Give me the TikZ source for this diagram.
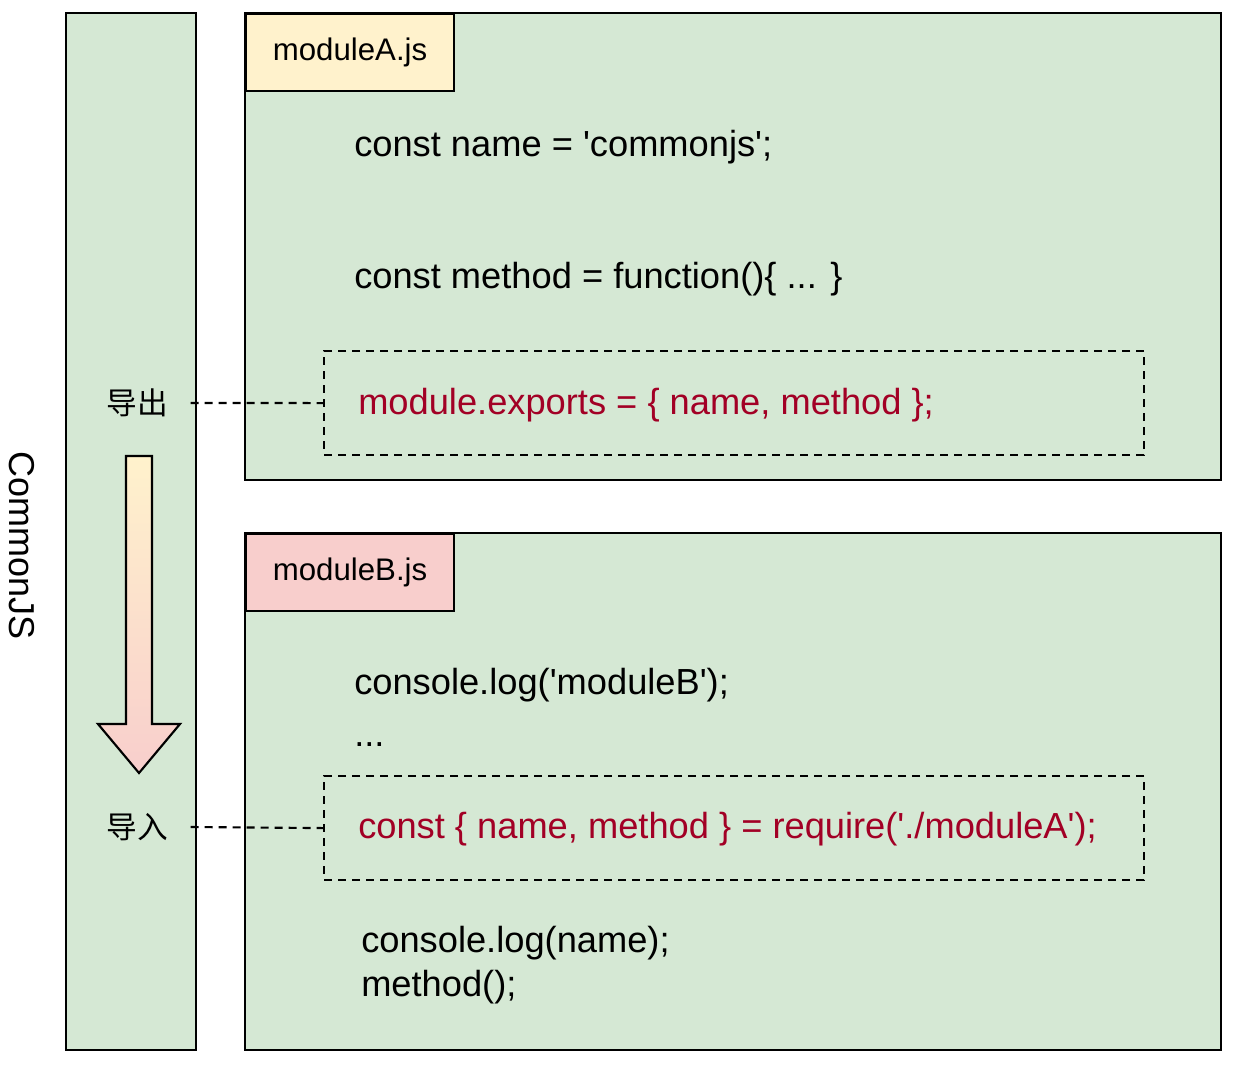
\documentclass[tikz,border=0pt]{standalone}
\usepackage{fontspec}
\setmainfont{Liberation Sans}[Ligatures=TeXOff]
\newfontfamily\cjk{Noto Sans CJK SC}

\definecolor{panelgreen}{HTML}{D5E8D4}
\definecolor{tabyellow}{HTML}{FFF2CC}
\definecolor{tabred}{HTML}{F8CECC}
\definecolor{codered}{HTML}{A20025}

\tikzset{
  panel/.style={draw, line width=1.6pt, fill=panelgreen},
  tabbox/.style={draw, line width=1.6pt, anchor=north west, minimum width=156pt,
    minimum height=57.75pt, inner sep=0pt, font=\fontsize{23.4}{27}\selectfont},
  codeline/.style={anchor=west, inner sep=0pt, text height=0.72em, text depth=0.2em,
    yshift=-6pt, font=\fontsize{27.2}{32}\selectfont},
  framebox/.style={draw, line width=1.6pt, dash pattern=on 6pt off 4.5pt,
    anchor=north west, minimum width=615pt, minimum height=78pt, inner sep=0pt},
  linkline/.style={line width=1.6pt, dash pattern=on 6pt off 4.5pt},
  steplabel/.style={inner sep=0pt, font=\cjk\fontsize{23}{26}\selectfont}
}

\begin{document}
\begin{tikzpicture}[x=0.75pt, y=-0.75pt]
    \useasboundingbox (0,0) rectangle (1234,1064);

    % Left column and side title
    \draw[panel] (66,13) rectangle (196,1050);
    \node[rotate=-90, inner sep=0pt, font=\fontsize{27}{32}\selectfont] (title) at (22,546) {CommonJS};

    % Module panels
    \draw[panel] (245,13) rectangle (1221,480);
    \draw[panel] (245,533) rectangle (1221,1050);

    % Tabs
    \node[tabbox, fill=tabyellow] (tabA) at (245,13) {moduleA.js};
    \node[tabbox, fill=tabred] (tabB) at (245,533) {moduleB.js};

    % Code of moduleA
    \node[codeline] (nameline) at (354,145) {const name = 'commonjs';};
    \node[codeline] (methodline) at (354,277) {const method = function()\{ ... \}};
    \node[framebox] (exportframe) at (323,350) {};
    \node[codeline, text=codered] (exportline) at (358,403) {module.exports = \{ name, method \};};

    % Code of moduleB
    \node[codeline] (logB) at (354,683) {console.log('moduleB');};
    \node[codeline] (dots) at (354,735) {...};
    \node[framebox] (importframe) at (323,775) {};
    \node[codeline, text=codered] (importline) at (358,827) {const \{ name, method \} = require('./moduleA');};
    \node[codeline] (logname) at (361,941) {console.log(name);};
    \node[codeline] (callmethod) at (361,985) {method();};

    % Export / import labels
    \node[steplabel] (export) at (137,403) {导出};
    \node[steplabel] (import) at (137,827) {导入};
    \draw[linkline] ([xshift=17pt]export.east) -- (exportframe.west);
    \draw[linkline] ([xshift=17pt]import.east) -- (importframe.west);

    % Direction arrow
    \draw[line width=1.6pt, top color=tabyellow, bottom color=tabred]
      (126,456) -- (152,456) -- (152,724) -- (180,724) -- (139,773)
      -- (98,724) -- (126,724) -- cycle;

\end{tikzpicture}
\end{document}
